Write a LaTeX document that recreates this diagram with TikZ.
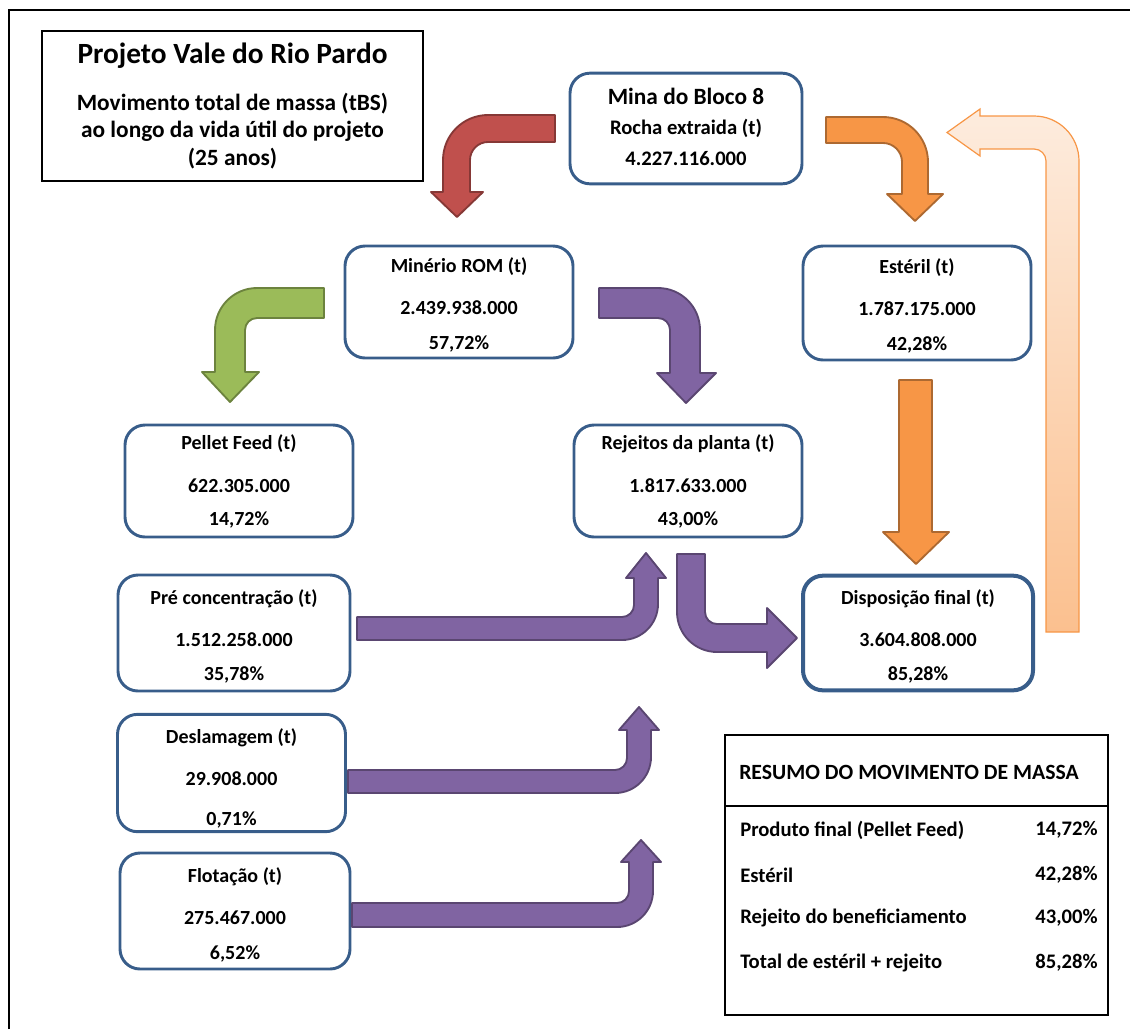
\documentclass[tikz,border=0pt]{standalone}
\usepackage{fontspec}
\setmainfont{Carlito}
\definecolor{boxblue}{RGB}{56,93,138}
\definecolor{cred}{RGB}{192,80,77}
\definecolor{corange}{RGB}{247,150,70}
\definecolor{cgreen}{RGB}{155,187,89}
\definecolor{cpurple}{RGB}{128,100,162}
\definecolor{cpeach}{RGB}{251,192,143}
\definecolor{cpeachl}{RGB}{253,236,222}
\newcommand{\tp}[1]{\rule{0pt}{#1}}
\tikzset{px/.style={x=0.75pt,y=-0.75pt,font=\bfseries}}
\tikzset{massbox/.style={draw=boxblue,line width=2.2pt,rounded corners=15pt,align=center,
           minimum width=171pt,minimum height=84pt,inner sep=0pt,
           font=\bfseries\fontsize{15}{18}\selectfont},
         plainbox/.style={draw=black,line width=1.6pt,inner sep=0pt}}
\tikzset{redarr/.style={fill=cred,draw=cred!70!black,line width=1.4pt,line join=round},
         orgarr/.style={fill=corange,draw=corange!70!black,line width=1.4pt,line join=round},
         grnarr/.style={fill=cgreen,draw=cgreen!70!black,line width=1.4pt,line join=round},
         purarr/.style={fill=cpurple,draw=cpurple!70!black,line width=1.4pt,line join=round},
         peacharr/.style={top color=cpeachl,bottom color=cpeach,draw=corange,line width=0.9pt}}

\begin{document}
\begin{tikzpicture}[px]
    \useasboundingbox (0,0) rectangle (1130,1029);
    \draw[line width=2.2pt] (9,1029) -- (9,10) -- (1130,10);
    % title
    \node[plainbox,minimum width=285.75pt,minimum height=112.5pt] (titlebox) at (232.5,106) {};
    \node[font=\bfseries\fontsize{22}{26}\selectfont] (title) at (232.5,56) {Projeto Vale do Rio Pardo};
    \node[align=center,font=\bfseries\fontsize{17.5}{20.5}\selectfont] (subtitle) at (232.5,131)
        {Movimento total de massa (tBS)\\ao longo da vida útil do projeto\\(25 anos)};
    % boxes
    \node[massbox,minimum width=174pt,minimum height=83pt,font=\bfseries\fontsize{15.5}{18}\selectfont] (mina) at (686,128.5)
        {{\fontsize{17.5}{21}\selectfont Mina do Bloco 8}\\[4.5pt]Rocha extraida (t)\\[5.2pt]4.227.116.000\rule[-3pt]{0pt}{0pt}};
    \node[massbox] (rom) at (459,302) {\tp{15.6pt}Minério ROM (t)\\[13.5pt]2.439.938.000\\[8.2pt]57,72\%};
    \node[massbox,minimum height=85.5pt] (esteril) at (917,303) {\tp{15.6pt}Estéril (t)\\[13.5pt]1.787.175.000\\[8.2pt]42,28\%};
    \node[massbox] (pellet) at (239,481) {Pellet Feed (t)\\[14.2pt]622.305.000\\[6.8pt]14,72\%};
    \node[massbox] (rejeitos) at (688,481) {Rejeitos da planta (t)\\[14.2pt]1.817.633.000\\[6.8pt]43,00\%};
    \node[massbox,line width=3pt,minimum width=172.5pt,minimum height=86pt] (disp) at (918,633)
        {\tp{15.6pt}Disposição final (t)\\[13.5pt]3.604.808.000\\[7.5pt]85,28\%};
    \node[massbox,minimum width=174pt,minimum height=87pt] (pre) at (234,633) {\tp{15.6pt}Pré concentração (t)\\[13.5pt]1.512.258.000\\[7.5pt]35,78\%};
    \node[massbox,minimum height=88pt] (desl) at (231.5,773) {\tp{18.6pt}Deslamagem (t)\\[13.5pt]29.908.000\\[12pt]0,71\%};
    \node[massbox,minimum width=172.5pt,minimum height=87pt] (flot) at (235,911) {\tp{17.4pt}Flotação (t)\\[13.5pt]275.467.000\\[8.2pt]6,52\%};
    % arrows
    \draw[redarr] (555,115) -- (488,115) arc[start angle=-90,end angle=-180,radius=45] -- (443,192) -- (431,192)
        -- (457,217) -- (483,192) -- (470,192) -- (470,160) arc[start angle=180,end angle=270,radius=18] -- (555,142) -- cycle;
    \draw[orgarr] (826,117) -- (883,117) arc[start angle=-90,end angle=0,radius=45] -- (928,194) -- (943,194)
        -- (915,221) -- (887,194) -- (902,194) -- (902,162) arc[start angle=0,end angle=-90,radius=19] -- (826,143) -- cycle;
    \draw[grnarr] (324,288) -- (257,288) arc[start angle=-90,end angle=-180,radius=42] -- (215,372) -- (202,372)
        -- (230,402) -- (259,372) -- (245,372) -- (245,330) arc[start angle=180,end angle=270,radius=12] -- (324,318) -- cycle;
    \draw[purarr] (599,288) -- (658,288) arc[start angle=-90,end angle=0,radius=42] -- (700,373) -- (716,373)
        -- (686,403) -- (657,373) -- (670,373) -- (670,330) arc[start angle=0,end angle=-90,radius=12] -- (599,318) -- cycle;
    \draw[orgarr] (899,380) -- (932,380) -- (932,532) -- (949,532) -- (916,564) -- (883,532) -- (899,532) -- cycle;
    \draw[purarr] (677,554) -- (705,554) -- (705,612) arc[start angle=180,end angle=90,radius=12] -- (767,624) -- (767,608)
        -- (797,638) -- (767,668) -- (767,652) -- (717,652) arc[start angle=90,end angle=180,radius=40] -- cycle;
    \draw[purarr] (357,617) -- (622,617) arc[start angle=90,end angle=0,radius=12] -- (634,578) -- (626,578)
        -- (646,553) -- (666,578) -- (658,578) -- (658,604) arc[start angle=0,end angle=90,radius=36] -- (357,640) -- cycle;
    \draw[purarr] (348,770) -- (615,770) arc[start angle=90,end angle=0,radius=12] -- (627,730) -- (619,730)
        -- (639,707) -- (659,730) -- (651,730) -- (651,757) arc[start angle=0,end angle=90,radius=36] -- (348,793) -- cycle;
    \draw[purarr] (352,903) -- (617,903) arc[start angle=90,end angle=0,radius=12] -- (629,862) -- (621,862)
        -- (641,840) -- (661,862) -- (653,862) -- (653,891) arc[start angle=0,end angle=90,radius=36] -- (352,927) -- cycle;
    \draw[peacharr] (1079,632) -- (1079,161) arc[start angle=0,end angle=-90,radius=45] -- (980,116) -- (980,109)
        -- (947,132.5) -- (980,156) -- (980,149) -- (1034,149) arc[start angle=-90,end angle=0,radius=12] -- (1046,632) -- cycle;
    % summary table
    \node[plainbox,line width=1.4pt,minimum width=287.25pt,minimum height=210pt] (resumo) at (916.5,875) {};
    \draw[line width=1.4pt] (resumo.west |- 0,806) -- (resumo.east |- 0,806);
    \node[font=\bfseries\fontsize{16.3}{19}\selectfont] (resumohead) at (909,772) {RESUMO DO MOVIMENTO DE MASSA};
    \foreach \lbl/\val/\yy in {{Produto final (Pellet Feed)}/{14,72\%}/830,Estéril/{42,28\%}/875,
                               {Rejeito do beneficiamento}/{43,00\%}/918,{Total de estéril + rejeito}/{85,28\%}/963} {
      \node[anchor=west,inner sep=0pt,font=\bfseries\fontsize{15.5}{18}\selectfont] (lbl\yy) at (740,\yy) {\lbl};
      \node[anchor=east,inner sep=0pt,font=\bfseries\fontsize{15.5}{18}\selectfont] (val\yy) at (1098,\yy) {\val};
    }
\end{tikzpicture}
\end{document}
